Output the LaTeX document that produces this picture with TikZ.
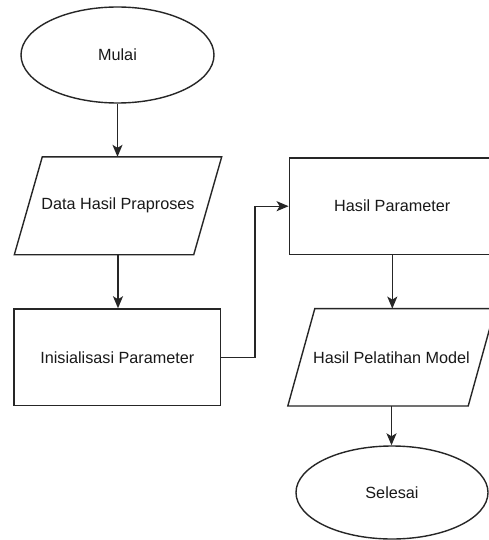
\documentclass[tikz,border=0pt]{standalone}
\usepackage{fontspec}
\setmainfont{Liberation Sans}
\usetikzlibrary{shapes.geometric,arrows.meta,calc}
\tikzset{
  base/.style={line width=1.4pt, draw=black!85, font=\fontsize{16.2}{19}\selectfont, text=black!90, align=center, inner sep=0pt},
  term/.style={base, ellipse},
  proc/.style={base, rectangle},
  io/.style={base, rectangle, draw=none},
  arr/.style={line width=1.4pt, draw=black!85, -{Stealth[length=12pt,width=10pt,inset=3pt]}},
  outline/.style={line width=1.4pt, draw=black!85}
}
\begin{document}
\begin{tikzpicture}[x=1pt,y=-1pt]
\useasboundingbox (0,0) rectangle (489,540);
\fill[white] (0,0) rectangle (489,540);
\clip (0,0) rectangle (489,540);

\node[term, minimum width=193pt, minimum height=96pt] (mulai) at (117.5,55) {Mulai};
\node[io, minimum width=206pt, minimum height=96.5pt] (data) at (118,205.8) {Data Hasil Praproses};
\draw[outline] ($(data.north west)+(28,0)$) -- (data.north east) -- ($(data.south east)+(-28,0)$) -- (data.south west) -- cycle;
\node[proc, minimum width=206.7pt, minimum height=96.7pt] (init) at (117.3,357.3) {Inisialisasi Parameter};
\node[proc, minimum width=206pt, minimum height=96pt] (hasilp) at (392.3,206.2) {Hasil Parameter};
\node[io, minimum width=206pt, minimum height=96pt] (model) at (391.5,357.3) {Hasil Pelatihan Model};
\draw[outline] ($(model.north west)+(27,0)$) -- (model.north east) -- ($(model.south east)+(-27,0)$) -- (model.south west) -- cycle;
\node[term, minimum width=192pt, minimum height=93pt] (selesai) at (392,492.5) {Selesai};

\draw[arr] (mulai.south) -- (mulai.south |- data.north);
\draw[arr] (data.south) -- (data.south |- init.north);
\draw[arr] (init.east) -| ($(init.east)!0.5!(hasilp.west)$) |- (hasilp.west);
\draw[arr] (hasilp.south) -- (hasilp.south |- model.north);
\draw[arr] (model.south) -- (model.south |- selesai.north);
\end{tikzpicture}
\end{document}
